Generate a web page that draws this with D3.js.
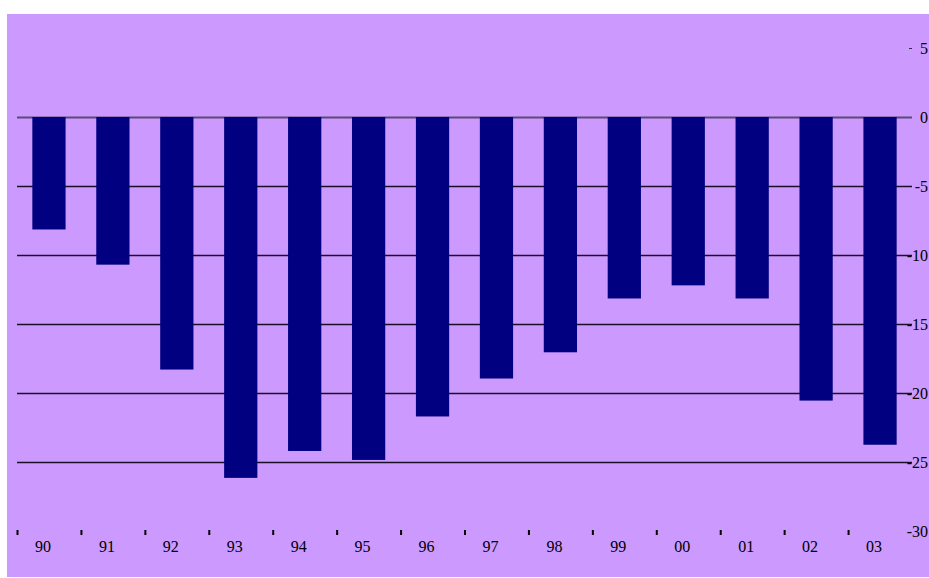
<!DOCTYPE html>
<html>
<head>
<meta charset="utf-8">
<script src="https://cdn.jsdelivr.net/npm/d3@7/dist/d3.min.js"></script>
<style>
  html, body { margin: 0; padding: 0; background: #ffffff; }
  svg { display: block; }
  text { font-family: "Liberation Serif", "Times New Roman", serif; font-size: 16px; fill: #000; }
</style>
</head>
<body>
<svg id="chart" width="929" height="578"></svg>
<script>
const categories = ["90","91","92","93","94","95","96","97","98","99","00","01","02","03"];
const values = [-8.15, -10.7, -18.3, -26.15, -24.2, -24.85, -21.7, -18.95, -17.05, -13.15, -12.2, -13.15, -20.55, -23.75];
const yTickValues = [5, 0, -5, -10, -15, -20, -25, -30];
const gridValues = [0, -5, -10, -15, -20, -25];

const svg = d3.select("#chart");

// background panel
svg.append("rect")
  .attr("x", 7).attr("y", 14)
  .attr("width", 922).attr("height", 563)
  .attr("fill", "#CC99FF");

const plotLeft = 17, plotRight = 912;
const x = d3.scaleBand()
  .domain(categories)
  .range([plotLeft, plotRight])
  .paddingInner(0.48)
  .paddingOuter(0.24);
const step = x.step();

const y = d3.scaleLinear().domain([-30, 5]).range([531, 48]);

// gridlines
svg.append("g").selectAll("line")
  .data(gridValues)
  .join("line")
  .attr("x1", plotLeft).attr("x2", plotRight)
  .attr("y1", d => Math.round(y(d)) + 0.5)
  .attr("y2", d => Math.round(y(d)) + 0.5)
  .attr("stroke", d => d === 0 ? "#5a4a78" : "#1a1026")
  .attr("stroke-width", d => d === 0 ? 2 : 1.3);

// small tick at the top value
svg.append("line")
  .attr("x1", 909).attr("x2", 912)
  .attr("y1", Math.round(y(5)) + 0.5).attr("y2", Math.round(y(5)) + 0.5)
  .attr("stroke", "#333").attr("stroke-width", 1);

// bars
svg.append("g").selectAll("rect")
  .data(values)
  .join("rect")
  .attr("x", (d, i) => x(categories[i]))
  .attr("width", x.bandwidth())
  .attr("y", d => y(Math.max(0, d)))
  .attr("height", d => Math.abs(y(d) - y(0)))
  .attr("fill", "#000080");

// category axis ticks (at band boundaries)
const xAxisG = svg.append("g");
xAxisG.selectAll("line")
  .data(categories)
  .join("line")
  .attr("x1", (d, i) => plotLeft + i * step + 0.5)
  .attr("x2", (d, i) => plotLeft + i * step + 0.5)
  .attr("y1", 530).attr("y2", 535)
  .attr("stroke", "#000").attr("stroke-width", 2);

xAxisG.selectAll("text")
  .data(categories)
  .join("text")
  .attr("x", d => x(d) + x.bandwidth() / 2 - 6)
  .attr("y", 552)
  .attr("text-anchor", "middle")
  .text(d => d);

// value axis on the right
const yAxis = d3.axisRight(y)
  .tickValues(yTickValues)
  .tickSize(0)
  .tickPadding(0)
  .tickFormat(d => String(d));
const yAxisG = svg.append("g")
  .attr("transform", "translate(928,0)")
  .call(yAxis);
yAxisG.select(".domain").remove();
yAxisG.selectAll("text")
  .attr("text-anchor", "end")
  .attr("font-family", "Liberation Serif, Times New Roman, serif")
  .attr("font-size", 16)
  .attr("fill", "#000");
</script>
</body>
</html>
